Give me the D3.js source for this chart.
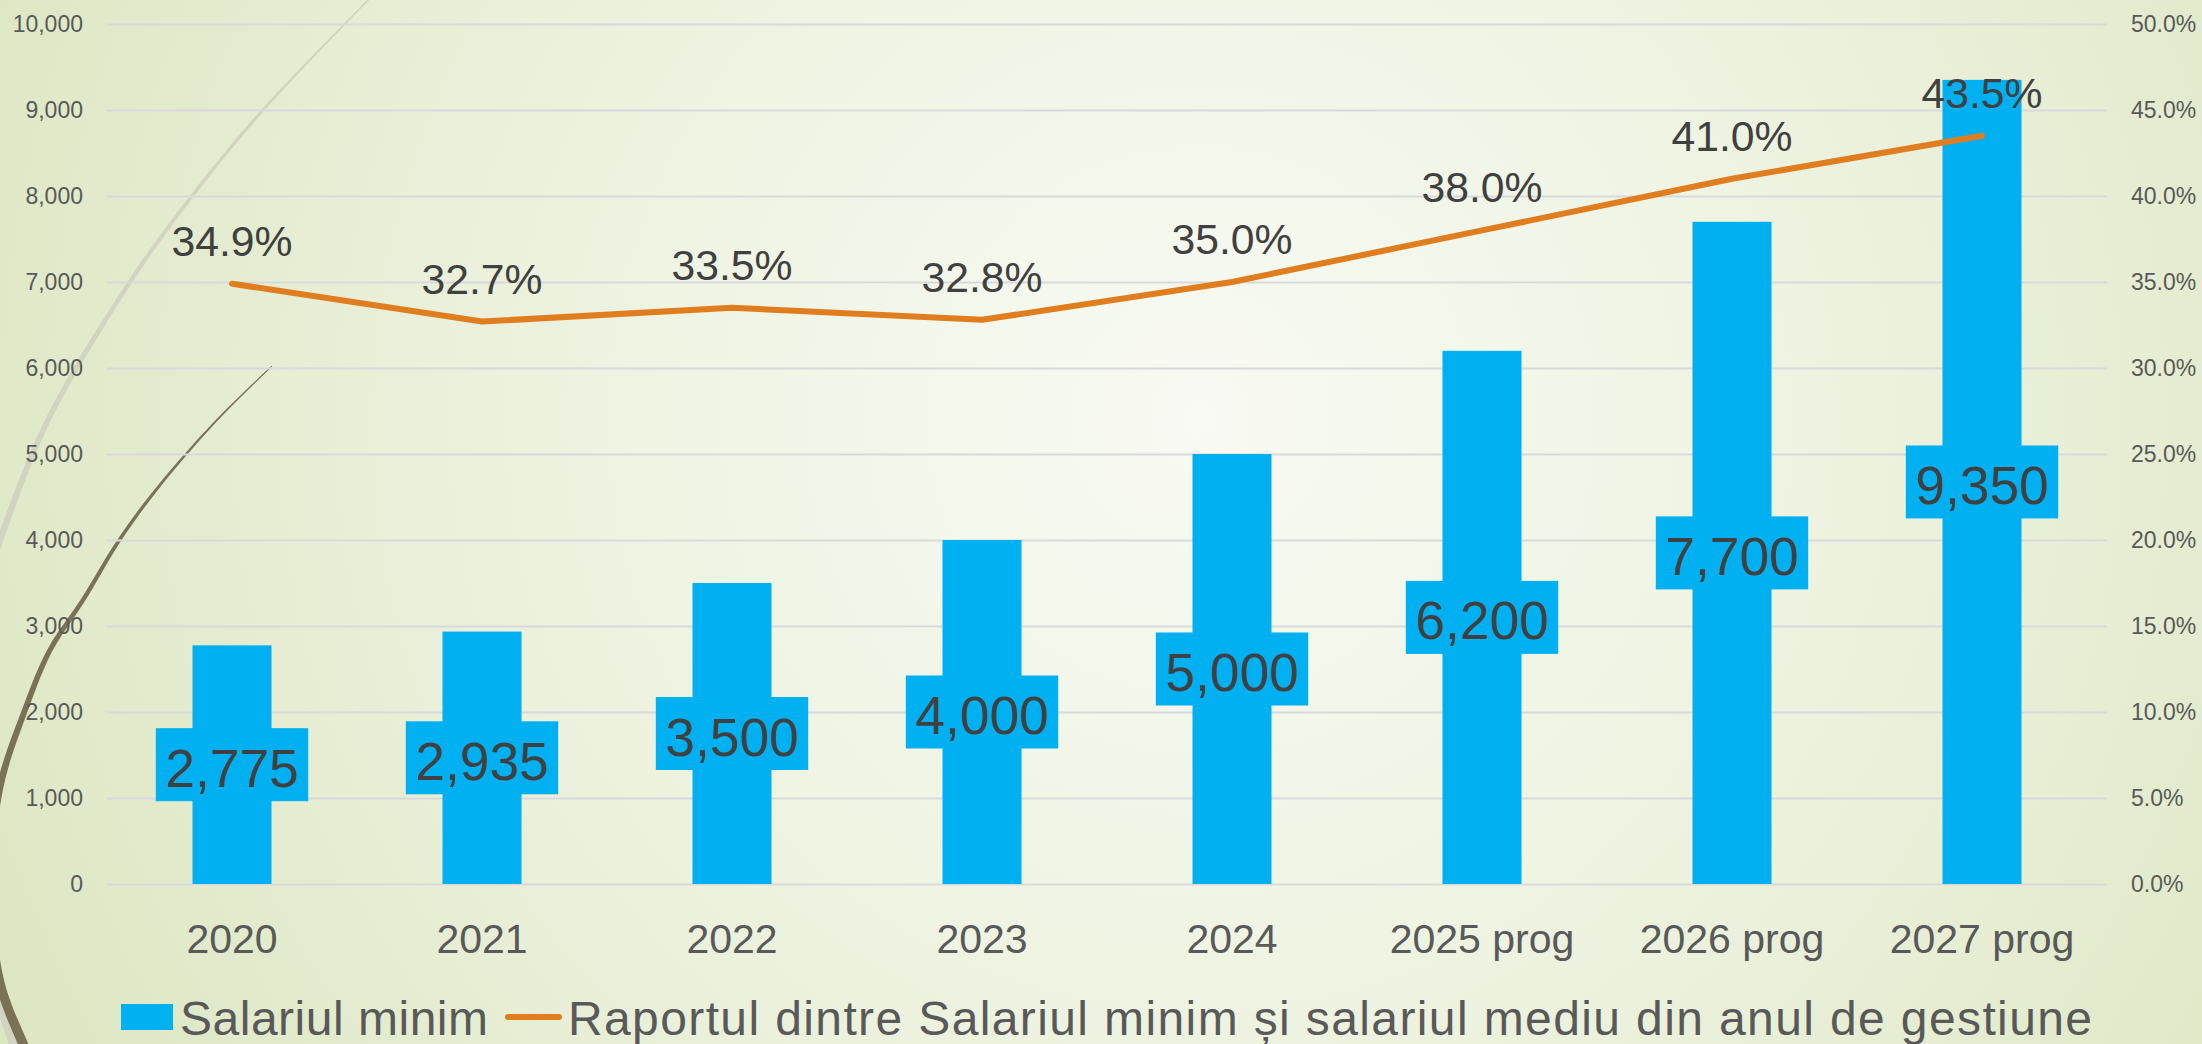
<!DOCTYPE html>
<html>
<head>
<meta charset="utf-8">
<script src="https://cdn.jsdelivr.net/npm/d3@7"></script>
<style>
  body { margin: 0; }
  svg { display: block; font-family: "Liberation Sans", Arial, sans-serif; }
</style>
</head>
<body>
<div id="wrapper"></div>
<script>
// data
const categories = ["2020", "2021", "2022", "2023", "2024", "2025 prog", "2026 prog", "2027 prog"]
const minWage = [2775, 2935, 3500, 4000, 5000, 6200, 7700, 9350]
const wageRatio = [34.9, 32.7, 33.5, 32.8, 35.0, 38.0, 41.0, 43.5]
const leftTicks = [0, 1000, 2000, 3000, 4000, 5000, 6000, 7000, 8000, 9000, 10000]
const rightTicks = [0, 5, 10, 15, 20, 25, 30, 35, 40, 45, 50]
const seriesNames = [
  "Salariul minim",
  "Raportul dintre Salariul minim și salariul mediu din anul de gestiune",
]

const rows = categories.map((c, i) => ({ cat: c, wage: minWage[i], ratio: wageRatio[i] }))

// dimensions
const dimensions = {
  width: 2202,
  height: 1044,
  plot: { left: 107, right: 2107, top: 24, bottom: 884 },
}

const barColor = "#00B0F0"
const lineColor = "#E07D1E"
const labelColor = "#404040"
const axisColor = "#595959"

const svg = d3
  .select("#wrapper")
  .append("svg")
  .attr("width", dimensions.width)
  .attr("height", dimensions.height)

// background
const defs = svg.append("defs")
const bg = defs
  .append("radialGradient")
  .attr("id", "bg-grad")
  .attr("gradientUnits", "userSpaceOnUse")
  .attr("cx", 1200)
  .attr("cy", 420)
  .attr("r", 1350)
bg.append("stop").attr("offset", 0).attr("stop-color", "#F8FAF3")
bg.append("stop").attr("offset", 0.45).attr("stop-color", "#EEF3E1")
bg.append("stop").attr("offset", 1).attr("stop-color", "#DCE6C1")

svg.append("rect").attr("width", dimensions.width).attr("height", dimensions.height).attr("fill", "url(#bg-grad)")

// decorative theme curves
const taperedStroke = (pts, w0, w1, color) => {
  const tmp = svg.append("path").attr("d", d3.line().curve(d3.curveCatmullRom)(pts)).attr("fill", "none")
  const node = tmp.node()
  const len = node.getTotalLength()
  const n = 80
  const left = []
  const right = []
  for (let i = 0; i <= n; i++) {
    const t = i / n
    const p = node.getPointAtLength(t * len)
    const q = node.getPointAtLength(Math.min(len, t * len + 1))
    const p0 = node.getPointAtLength(Math.max(0, t * len - 1))
    const dx = q.x - p0.x
    const dy = q.y - p0.y
    const d = Math.hypot(dx, dy) || 1
    const w = (w0 + (w1 - w0) * t) / 2
    left.push([p.x - (dy / d) * w, p.y + (dx / d) * w])
    right.push([p.x + (dy / d) * w, p.y - (dx / d) * w])
  }
  tmp.remove()
  svg.append("path").attr("d", d3.line()(left.concat(right.reverse())) + "Z").attr("fill", color)
}

taperedStroke(
  [[380, -12], [263, 110], [192, 196], [130, 282], [48, 420], [0, 540], [-20, 600]],
  1.5, 7, "#D2D4BF"
)
taperedStroke([[-16, 960], [2, 1010], [16, 1050]], 8, 10, "#D2D4BF")
taperedStroke(
  [[272, 366], [217, 420], [160, 485], [120, 539], [83, 600], [50, 650], [25, 710], [0, 787], [-10, 885], [0, 983], [23, 1044], [28, 1056]],
  1, 10, "#7A7257"
)

// scales
const xScale = d3
  .scaleBand()
  .domain(categories)
  .range([dimensions.plot.left, dimensions.plot.right])
  .paddingInner(0.684)
  .paddingOuter(0.342)
const xCenter = (c) => xScale(c) + xScale.bandwidth() / 2

const yLeft = d3.scaleLinear().domain([0, 10000]).range([dimensions.plot.bottom, dimensions.plot.top])
const yRight = d3.scaleLinear().domain([0, 50]).range([dimensions.plot.bottom, dimensions.plot.top])

// gridlines
svg
  .append("g")
  .attr("transform", `translate(${dimensions.plot.left},0)`)
  .call(d3.axisLeft(yLeft).tickValues(leftTicks).tickSize(-(dimensions.plot.right - dimensions.plot.left)).tickFormat(""))
  .call((g) => g.select(".domain").remove())
  .call((g) => g.selectAll("line").attr("stroke", "#D9D9DC").attr("stroke-width", 2))

// axes
svg
  .append("g")
  .attr("transform", `translate(${dimensions.plot.left},0)`)
  .call(d3.axisLeft(yLeft).tickValues(leftTicks).tickSize(0).tickPadding(24).tickFormat(d3.format(",")))
  .call((g) => g.select(".domain").remove())
  .call((g) => g.selectAll("text").attr("fill", axisColor).attr("font-size", 23).attr("font-family", null))

svg
  .append("g")
  .attr("transform", `translate(${dimensions.plot.right},0)`)
  .call(d3.axisRight(yRight).tickValues(rightTicks).tickSize(0).tickPadding(24).tickFormat((d) => d3.format(".1f")(d) + "%"))
  .call((g) => g.select(".domain").remove())
  .call((g) => g.selectAll("text").attr("fill", axisColor).attr("font-size", 23).attr("font-family", null))

svg
  .append("g")
  .attr("transform", `translate(0,${dimensions.plot.bottom})`)
  .call(d3.axisBottom(xScale).tickSize(0))
  .call((g) => g.select(".domain").remove())
  .call((g) =>
    g.selectAll("text").attr("dy", null).attr("y", 69).attr("fill", axisColor).attr("font-size", 41).attr("font-family", null)
  )

// bars
svg
  .append("g")
  .selectAll("rect")
  .data(rows)
  .join("rect")
  .attr("x", (d) => xScale(d.cat))
  .attr("y", (d) => yLeft(d.wage))
  .attr("width", xScale.bandwidth())
  .attr("height", (d) => yLeft(0) - yLeft(d.wage))
  .attr("fill", barColor)

// bar labels (centered, filled box)
const barLabels = svg
  .append("g")
  .selectAll("g")
  .data(rows)
  .join("g")
  .attr("transform", (d) => `translate(${xCenter(d.cat)},${(yLeft(0) + yLeft(d.wage)) / 2})`)

barLabels
  .append("text")
  .attr("text-anchor", "middle")
  .attr("y", 22)
  .attr("font-size", 53.3)
  .attr("fill", labelColor)
  .text((d) => d3.format(",")(d.wage))

barLabels.each(function () {
  const g = d3.select(this)
  const w = g.select("text").node().getComputedTextLength() + 19
  g.insert("rect", "text").attr("x", -w / 2).attr("y", -36.5).attr("width", w).attr("height", 73).attr("fill", barColor)
})

// line
const lineGenerator = d3
  .line()
  .x((d) => xCenter(d.cat))
  .y((d) => yRight(d.ratio))

svg
  .append("path")
  .attr("d", lineGenerator(rows))
  .attr("fill", "none")
  .attr("stroke", lineColor)
  .attr("stroke-width", 6)
  .attr("stroke-linecap", "round")
  .attr("stroke-linejoin", "round")

svg
  .append("g")
  .selectAll("text")
  .data(rows)
  .join("text")
  .attr("x", (d) => xCenter(d.cat))
  .attr("y", (d) => yRight(d.ratio) - 28)
  .attr("text-anchor", "middle")
  .attr("font-size", 42.7)
  .attr("fill", labelColor)
  .text((d) => d3.format(".1f")(d.ratio) + "%")

// legend
const legend = svg.append("g")
legend.append("rect").attr("x", 121).attr("y", 1004).attr("width", 52).attr("height", 26).attr("fill", barColor)
legend
  .append("text")
  .attr("x", 180)
  .attr("y", 1035)
  .attr("font-size", 48)
  .attr("fill", axisColor)
  .attr("textLength", 308)
  .attr("lengthAdjust", "spacing")
  .text(seriesNames[0])
legend
  .append("line")
  .attr("x1", 508)
  .attr("x2", 559)
  .attr("y1", 1017)
  .attr("y2", 1017)
  .attr("stroke", lineColor)
  .attr("stroke-width", 6)
  .attr("stroke-linecap", "round")
legend
  .append("text")
  .attr("x", 568)
  .attr("y", 1035)
  .attr("font-size", 48)
  .attr("fill", axisColor)
  .attr("textLength", 1524)
  .attr("lengthAdjust", "spacing")
  .text(seriesNames[1])
</script>
</body>
</html>
